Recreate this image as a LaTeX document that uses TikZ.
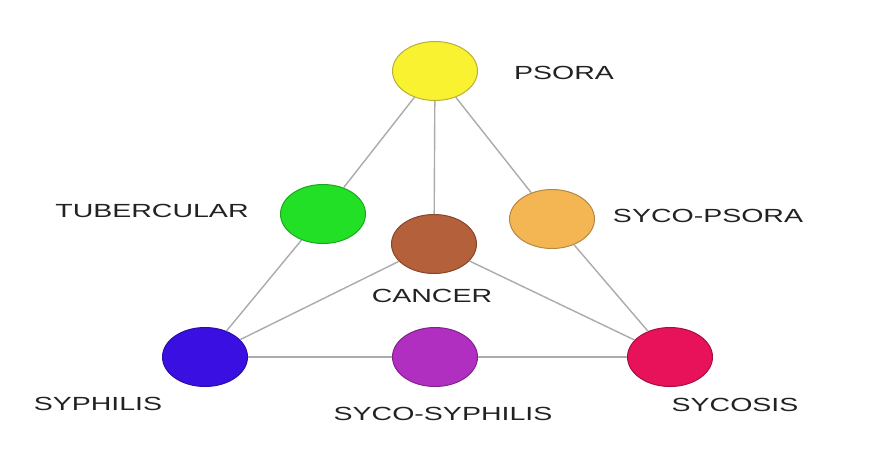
\documentclass[tikz,border=0pt]{standalone}
\usepackage{fontspec}
\setmainfont{Liberation Sans}
\usetikzlibrary{shapes.geometric}
\definecolor{edgegray}{HTML}{ABABAB}
\definecolor{txt}{HTML}{222222}
\definecolor{cyellow}{HTML}{F8F230}\definecolor{byellow}{HTML}{B8AE3C}
\definecolor{cgreen}{HTML}{22E026}\definecolor{bgreen}{HTML}{1AA81E}
\definecolor{cbrown}{HTML}{B4603A}\definecolor{bbrown}{HTML}{87462A}
\definecolor{corange}{HTML}{F4B652}\definecolor{borange}{HTML}{B58742}
\definecolor{cblue}{HTML}{3A10E2}\definecolor{bblue}{HTML}{2A0CA8}
\definecolor{cpurple}{HTML}{B02EC0}\definecolor{bpurple}{HTML}{83228F}
\definecolor{cred}{HTML}{E8125A}\definecolor{bred}{HTML}{A80C42}
\tikzset{
  blob/.style={ellipse, minimum width=85pt, minimum height=59pt, inner sep=0pt, line width=1pt},
  lbl/.style={text=txt, font=\fontsize{19}{22}\selectfont, inner sep=0pt, anchor=center},
  link/.style={draw=edgegray, line width=1.4pt}
}
\newcommand{\wide}[1]{\scalebox{1.5}[1]{#1}}
\begin{document}
\begin{tikzpicture}[x=1pt,y=-1pt]
\useasboundingbox[fill=white] (0,0) rectangle (882,469);
% nodes
\node[blob, fill=cyellow, draw=byellow] (psora) at (435,71) {};
\node[blob, fill=cgreen, draw=bgreen] (tub) at (323,214) {};
\node[blob, fill=cbrown, draw=bbrown] (cancer) at (434,244) {};
\node[blob, fill=corange, draw=borange] (sycopsora) at (552,219) {};
\node[blob, fill=cblue, draw=bblue] (syph) at (205,357) {};
\node[blob, fill=cpurple, draw=bpurple] (sycosyph) at (435,357) {};
\node[blob, fill=cred, draw=bred] (sycosis) at (670,357) {};
% edges
\draw[link] (psora) -- (tub);
\draw[link] (tub) -- (syph);
\draw[link] (psora) -- (sycopsora);
\draw[link] (sycopsora) -- (sycosis);
\draw[link] (psora) -- (cancer);
\draw[link] (cancer) -- (syph);
\draw[link] (cancer) -- (sycosis);
\draw[link] (syph) -- (sycosyph);
\draw[link] (sycosyph) -- (sycosis);
% labels
\node[lbl] (lpsora) at (564,73) {\wide{PSORA}};
\node[lbl] (ltub) at (152,211) {\wide{TUBERCULAR}};
\node[lbl] (lsycopsora) at (708,216) {\wide{SYCO-PSORA}};
\node[lbl] (lcancer) at (432,296) {\wide{CANCER}};
\node[lbl] (lsyph) at (98,404) {\wide{SYPHILIS}};
\node[lbl] (lsycosyph) at (443,414) {\wide{SYCO-SYPHILIS}};
\node[lbl] (lsycosis) at (735,405) {\wide{SYCOSIS}};
\end{tikzpicture}
\end{document}
